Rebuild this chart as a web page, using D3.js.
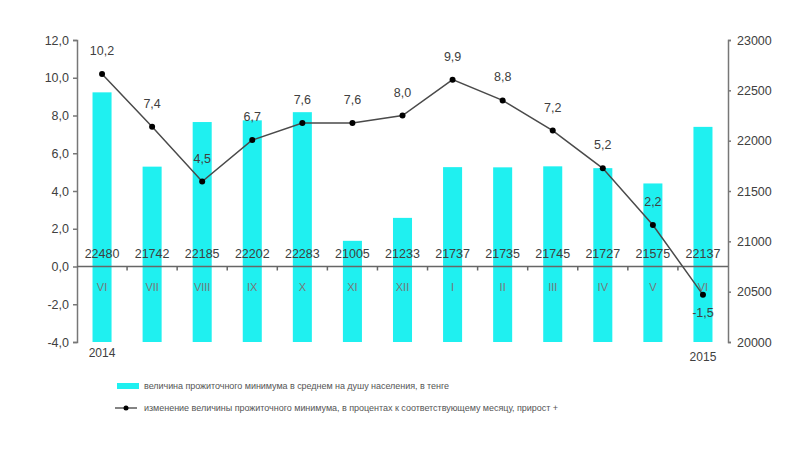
<!DOCTYPE html>
<head>
  <meta charset="utf-8">
  <script src="https://d3js.org/d3.v7.min.js"></script>
  <style>
    body { margin: 0; background: #fff; }
    svg { width: 800px; height: 457px; display: block; }
    text { font-family: "Liberation Sans", Arial, sans-serif; }
  </style>
</head>
<body>
  <svg></svg>
  <script>
    var months = ['VI', 'VII', 'VIII', 'IX', 'X', 'XI', 'XII', 'I', 'II', 'III', 'IV', 'V', 'VI'];
    var minimum = [22480, 21742, 22185, 22202, 22283, 21005, 21233, 21737, 21735, 21745, 21727, 21575, 22137];
    var growth = [10.2, 7.4, 4.5, 6.7, 7.6, 7.6, 8.0, 9.9, 8.8, 7.2, 5.2, 2.2, -1.5];
    var leftTicks = [-4, -2, 0, 2, 4, 6, 8, 10, 12];
    var rightTicks = [20000, 20500, 21000, 21500, 22000, 22500, 23000];
    var years = ['2014', '2015'];
    var legendLabels = [
      'величина прожиточного минимума в среднем на душу населения, в тенге',
      'изменение величины прожиточного минимума, в процентах к соответствующему месяцу, прирост +'
    ];

    var plotLeft = 77, plotRight = 728, plotTop = 40, plotBottom = 342;
    var barColor = '#1ff0f0';
    var axisColor = '#777';
    var textColor = '#404040';

    var svg = d3.select('svg');

    var x = d3.scaleBand()
      .domain(d3.range(months.length))
      .range([plotLeft, plotRight])
      .paddingInner(0.62)
      .paddingOuter(0.31);

    var yL = d3.scaleLinear().domain([-4, 12]).range([plotBottom, plotTop]);
    var yR = d3.scaleLinear().domain([20000, 23000]).range([plotBottom, plotTop]);
    // comma decimal, plain hyphen for minus
    var fmt = function(v) { return v.toFixed(1).replace('.', ','); };

    // bars
    svg.selectAll('rect.bar')
      .data(minimum).enter().append('rect')
      .attr('class', 'bar')
      .attr('x', function(d, i) { return x(i); })
      .attr('width', x.bandwidth())
      .attr('y', function(d) { return yR(d); })
      .attr('height', function(d) { return yR(20000) - yR(d); })
      .attr('fill', barColor);

    // left axis
    var axL = svg.append('g')
      .attr('transform', 'translate(' + plotLeft + ',0)')
      .call(d3.axisLeft(yL).tickValues(leftTicks).tickFormat(fmt).tickSize(4).tickPadding(4));
    axL.select('.domain').attr('stroke', axisColor).attr('stroke-width', 1.5);
    axL.selectAll('.tick line').attr('stroke', axisColor).attr('stroke-width', 1.5);
    axL.selectAll('text').attr('fill', textColor).style('font-size', '12.5px');

    // right axis
    var axR = svg.append('g')
      .attr('transform', 'translate(' + plotRight + ',0)')
      .call(d3.axisRight(yR).tickValues(rightTicks).tickFormat(d3.format('d')).tickSize(3).tickPadding(6));
    axR.select('.domain').attr('stroke', axisColor).attr('stroke-width', 1.5);
    axR.selectAll('.tick line').attr('stroke', axisColor).attr('stroke-width', 1.5);
    axR.selectAll('text').attr('fill', textColor).style('font-size', '12.5px');

    // zero line with category ticks
    var step = x.step();
    var bounds = d3.range(1, months.length).map(function(i) { return x(i) - step * 0.31; });
    var zero = svg.append('g').attr('transform', 'translate(0,' + yL(0) + ')');
    zero.append('line')
      .attr('x1', plotLeft).attr('x2', plotRight)
      .attr('stroke', '#666').attr('stroke-width', 1.5);
    zero.selectAll('line.tk')
      .data(bounds).enter().append('line')
      .attr('class', 'tk')
      .attr('x1', function(d) { return d; }).attr('x2', function(d) { return d; })
      .attr('y1', 0).attr('y2', 4)
      .attr('stroke', '#666').attr('stroke-width', 1.5);

    var cx = function(i) { return x(i) + x.bandwidth() / 2; };

    // month labels
    svg.selectAll('text.month')
      .data(months).enter().append('text')
      .attr('class', 'month')
      .attr('x', function(d, i) { return cx(i); })
      .attr('y', yL(0) + 24)
      .attr('text-anchor', 'middle')
      .attr('fill', '#777')
      .style('font-size', '11px')
      .text(function(d) { return d; });

    // bar value labels
    svg.selectAll('text.val')
      .data(minimum).enter().append('text')
      .attr('class', 'val')
      .attr('x', function(d, i) { return cx(i); })
      .attr('y', yL(0) - 9)
      .attr('text-anchor', 'middle')
      .attr('fill', textColor)
      .style('font-size', '12.5px')
      .text(function(d) { return d; });

    // year labels
    svg.selectAll('text.year')
      .data(years).enter().append('text')
      .attr('class', 'year')
      .attr('x', function(d, i) { return cx(i === 0 ? 0 : months.length - 1); })
      .attr('y', function(d, i) { return plotBottom + (i === 0 ? 15 : 19); })
      .attr('text-anchor', 'middle')
      .attr('fill', textColor)
      .style('font-size', '12px')
      .text(function(d) { return d; });

    // growth line
    var line = d3.line()
      .x(function(d, i) { return cx(i); })
      .y(function(d) { return yL(d); });

    svg.append('path')
      .datum(growth)
      .attr('d', line)
      .attr('fill', 'none')
      .attr('stroke', '#4a4a4a')
      .attr('stroke-width', 1.5);

    svg.selectAll('circle.pt')
      .data(growth).enter().append('circle')
      .attr('class', 'pt')
      .attr('cx', function(d, i) { return cx(i); })
      .attr('cy', function(d) { return yL(d); })
      .attr('r', 3)
      .attr('fill', '#000');

    svg.selectAll('text.gr')
      .data(growth).enter().append('text')
      .attr('class', 'gr')
      .attr('x', function(d, i) { return cx(i); })
      .attr('y', function(d) { return d < 0 ? yL(d) + 22 : yL(d) - 19; })
      .attr('text-anchor', 'middle')
      .attr('fill', textColor)
      .style('font-size', '12.5px')
      .text(function(d) { return fmt(d); });

    // legend
    var lg = svg.append('g');
    lg.append('rect')
      .attr('x', 117).attr('y', 383).attr('width', 22).attr('height', 6)
      .attr('fill', barColor);
    lg.append('line')
      .attr('x1', 115).attr('x2', 137).attr('y1', 408).attr('y2', 408)
      .attr('stroke', '#333').attr('stroke-width', 1.2);
    lg.append('circle')
      .attr('cx', 126).attr('cy', 408).attr('r', 2.5).attr('fill', '#000');
    lg.selectAll('text')
      .data(legendLabels).enter().append('text')
      .attr('x', 144)
      .attr('y', function(d, i) { return 389 + i * 22; })
      .attr('fill', '#555')
      .attr('textLength', function(d, i) { return i === 0 ? 305 : 414; })
      .style('font-size', '9px')
      .text(function(d) { return d; });
  </script>
</body>
